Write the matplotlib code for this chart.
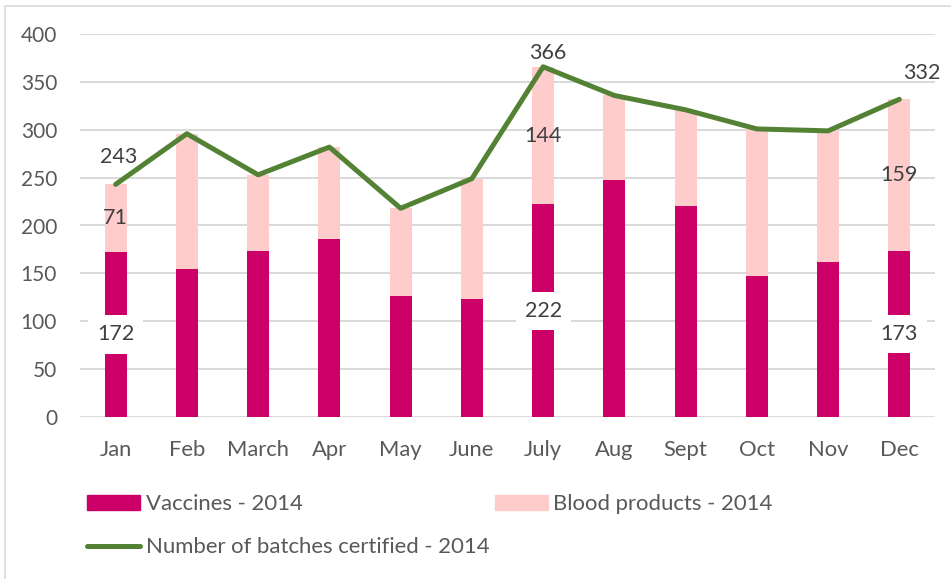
import matplotlib
matplotlib.use("Agg")
import matplotlib.pyplot as plt
from matplotlib.patches import Rectangle
from matplotlib.lines import Line2D
import numpy as np

# data
months = ["Jan", "Feb", "March", "Apr", "May", "June", "July", "Aug", "Sept", "Oct", "Nov", "Dec"]
vaccines = [172, 154, 173, 186, 126, 123, 222, 248, 220, 147, 162, 173]
blood = [71, 142, 80, 96, 92, 126, 144, 88, 101, 154, 137, 159]
batches = [243, 296, 253, 282, 218, 249, 366, 336, 321, 301, 299, 332]
labelled = [0, 6, 11]  # months that carry data labels

VACC = "#CC0066"
BLOOD = "#FFCCCC"
GREEN = "#548235"
GRID = "#D9D9D9"
TXT = "#595959"
LAB = "#404040"

plt.rcParams["font.family"] = ["Lato", "DejaVu Sans"]
plt.rcParams["font.size"] = 15

fig = plt.figure(figsize=(9.51, 5.79), dpi=100)
ax = fig.add_axes([80 / 951, 1 - 416.7 / 579, 855 / 951, 382.4 / 579])

x = np.arange(len(months))
w = 0.31
ax.bar(x, vaccines, w, color=VACC, zorder=2)
ax.bar(x, blood, w, bottom=vaccines, color=BLOOD, zorder=2)
ax.plot(x, batches, color=GREEN, lw=3.6, zorder=3,
        solid_joinstyle="round", solid_capstyle="round")

ax.set_xlim(-0.5, len(months) - 0.5)
ax.set_ylim(0, 400)
ax.set_yticks(range(0, 401, 50))
ax.yaxis.grid(True, color=GRID, lw=1.4, zorder=0)
ax.set_axisbelow(True)
for s in ax.spines.values():
    s.set_visible(False)
ax.set_xticks(x)
ax.set_xticklabels(months)
ax.tick_params(axis="both", length=0, colors=TXT, labelsize=15)
ax.tick_params(axis="x", labelsize=15.8, pad=16.5)
ax.tick_params(axis="y", pad=16.5)

# data labels
offsets = {0: (2, 20), 6: (3, 10), 11: (16, 19)}
for i in labelled:
    ax.text(i, vaccines[i] / 2, str(vaccines[i]), ha="center", va="center",
            color=LAB, fontsize=15.5, zorder=5,
            bbox=dict(boxstyle="square,pad=0.42", fc="white", ec="none"))
    ax.text(i, vaccines[i] + blood[i] / 2, str(blood[i]), ha="center", va="center",
            color=LAB, fontsize=15.5, zorder=5)
    ax.annotate(str(batches[i]), (i, batches[i]), xytext=offsets[i],
                textcoords="offset points", ha="center", va="center",
                color=LAB, fontsize=15.5, zorder=5)

handles = [
    Rectangle((0, 0), 1, 1, color=VACC),
    Line2D([], [], color=GREEN, lw=3.6, solid_capstyle="round"),
    Rectangle((0, 0), 1, 1, color=BLOOD),
]
names = ["Vaccines - 2014", "Number of batches certified - 2014", "Blood products - 2014"]
leg = fig.legend(handles, names, ncol=2, loc="upper left",
                 bbox_to_anchor=(87 / 951, 1 - 494 / 579), frameon=False,
                 borderpad=0, borderaxespad=0, handlelength=2.4, handleheight=0.64,
                 handletextpad=0.25, columnspacing=0.25, labelspacing=1.06,
                 fontsize=15.9, labelcolor=TXT)

# chart area border
fig.patches.append(Rectangle((4.5 / 951, -0.05), 1.1, 1.05 - 5.5 / 579,
                             transform=fig.transFigure, fill=False,
                             ec=GRID, lw=1.2))

fig.savefig("out.png", dpi=100)
